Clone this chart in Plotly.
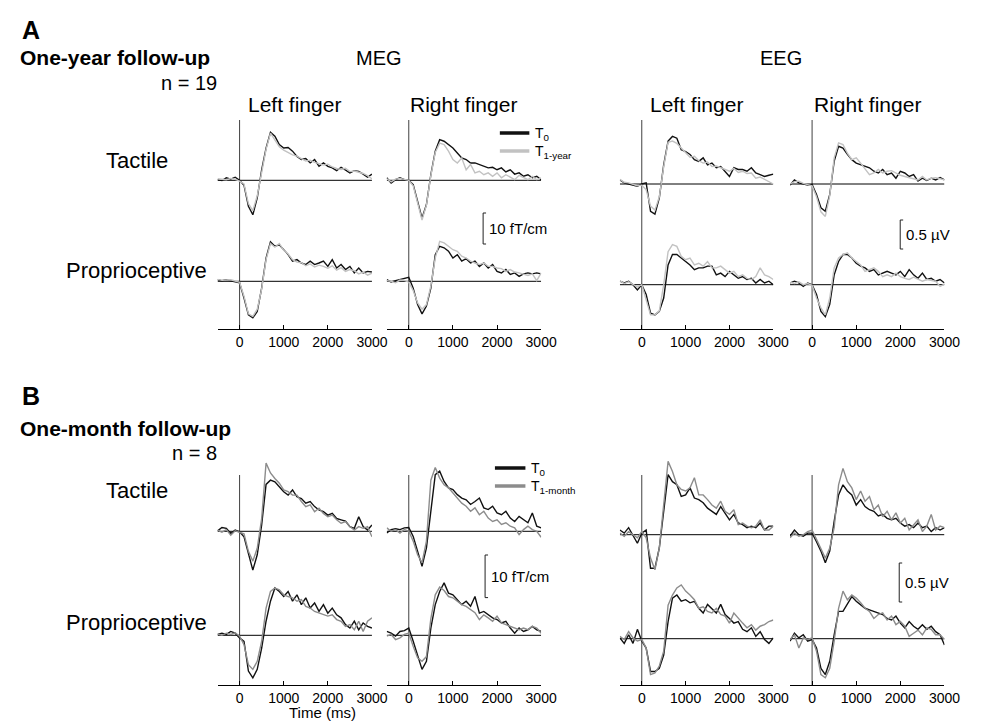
import plotly.graph_objects as go

# ---------------- data ----------------
time_ms = list(range(-500, 3001, 100))
x_tickvals = [0, 1000, 2000, 3000]
x_ticktext = ["0", "1000", "2000", "3000"]

# Panel A: one-year follow-up (MEG in fT/cm, EEG in uV)
A_meg_L_tac_T0 = [0.2, -0.1, 0.8, 0.4, 1.0, 0.0, -1.6, -8.4, -11.1, -5.7, 3.4, 10.4,
                  15.5, 14.2, 11.5, 10.4, 10.6, 9.4, 7.7, 6.7, 7.0, 5.6, 6.7, 4.5,
                  5.6, 4.5, 4.0, 3.1, 4.2, 3.4, 2.4, 3.1, 2.9, 2.0, 1.0, 2.0]
A_meg_L_tac_T1 = [0.5, 0.3, 0.2, 0.6, 0.3, -0.3, -1.2, -7.5, -9.8, -5.0, 3.0, 10.0,
                  15.2, 13.0, 10.8, 9.7, 9.0, 8.2, 7.8, 7.0, 6.2, 6.5, 5.8, 5.4,
                  4.9, 5.2, 4.3, 3.8, 3.5, 3.9, 2.8, 3.0, 2.6, 2.2, 1.5, 0.5]
A_meg_L_pro_T0 = [0.5, 0.2, 0.5, 0.2, -0.2, -0.5, -5.4, -10.8, -11.8, -9.7, -2.2, 7.5,
                  12.7, 11.3, 11.8, 10.2, 8.6, 6.5, 7.0, 5.9, 5.4, 6.5, 5.4, 5.9,
                  6.5, 4.8, 7.0, 4.3, 5.4, 3.8, 4.8, 2.7, 4.3, 2.7, 3.2, 3.0]
A_meg_L_pro_T1 = [0.6, 0.3, 0.4, 0.5, 0.1, -0.3, -4.8, -10.5, -11.3, -9.0, -2.5, 7.0,
                  12.2, 11.0, 12.2, 10.0, 8.8, 7.0, 6.2, 6.0, 5.0, 5.6, 4.6, 5.2,
                  4.8, 4.2, 5.0, 3.6, 4.4, 3.2, 3.8, 3.4, 2.4, 3.0, 2.0, 2.6]
A_meg_R_tac_T0 = [0.8, -0.9, 0.2, 0.8, 0.2, 0.0, -1.4, -6.8, -12.2, -7.8, 1.8, 9.4,
                  13.1, 12.6, 11.5, 10.4, 8.8, 7.2, 6.7, 5.6, 5.6, 5.1, 4.5, 4.0,
                  4.2, 3.4, 4.0, 2.7, 3.4, 2.0, 2.4, 1.3, 1.8, 0.8, 1.3, 0.2]
A_meg_R_tac_T1 = [0.5, -0.5, 0.4, 0.6, 0.3, 0.0, -1.8, -7.5, -12.8, -8.0, 1.5, 9.0,
                  12.0, 11.5, 9.4, 6.7, 5.6, 7.2, 3.4, 5.1, 2.4, 2.9, 1.8, 2.4,
                  1.3, 2.4, 0.8, 1.8, 1.0, 0.2, 1.6, 0.8, 0.2, 1.3, 0.2, 0.8]
A_meg_R_pro_T0 = [0.5, -0.2, 0.2, 0.5, 0.9, 1.3, -2.2, -7.5, -10.5, -8.0, -2.2, 8.6,
                  11.3, 10.8, 9.7, 7.5, 8.6, 6.5, 7.3, 5.9, 6.5, 4.8, 5.9, 4.3,
                  5.4, 3.2, 2.7, 3.8, 2.2, 2.7, 1.6, 2.4, 2.7, 2.4, 2.7, 2.4]
A_meg_R_pro_T1 = [0.2, 0.0, -0.5, 0.4, 0.3, -0.3, -3.0, -7.0, -9.0, -7.5, -1.5, 7.5,
                  12.9, 12.4, 11.3, 10.2, 9.7, 8.1, 7.5, 6.5, 5.9, 5.4, 5.9, 4.8,
                  4.8, 4.3, 4.1, 3.2, 3.8, 3.0, 2.7, 2.4, 1.9, 2.4, 0.2, 2.7]

A_eeg_L_tac_T0 = [0.07, 0.02, 0.00, -0.02, -0.04, 0.00, 0.02, -0.47, -0.52, -0.24, 0.33, 0.74,
                  0.82, 0.79, 0.59, 0.56, 0.51, 0.42, 0.39, 0.45, 0.33, 0.36, 0.28, 0.30,
                  0.22, 0.13, 0.28, 0.25, 0.25, 0.22, 0.28, 0.19, 0.16, 0.13, 0.15, 0.17]
A_eeg_L_tac_T1 = [0.08, 0.03, 0.02, -0.01, -0.03, -0.02, -0.10, -0.38, -0.45, -0.22, 0.30, 0.72,
                  0.74, 0.70, 0.62, 0.55, 0.46, 0.48, 0.40, 0.36, 0.38, 0.30, 0.31, 0.28,
                  0.25, 0.22, 0.27, 0.20, 0.22, 0.18, 0.19, 0.10, 0.12, 0.08, 0.05, 0.00]
A_eeg_L_pro_T0 = [0.06, 0.03, 0.06, 0.00, -0.09, 0.00, -0.17, -0.49, -0.52, -0.46, -0.23, 0.34,
                  0.52, 0.52, 0.46, 0.40, 0.34, 0.26, 0.29, 0.29, 0.32, 0.32, 0.17, 0.20,
                  0.14, 0.23, 0.17, 0.11, 0.14, 0.09, 0.11, 0.03, 0.09, 0.03, 0.06, 0.00]
A_eeg_L_pro_T1 = [0.07, 0.02, 0.05, 0.01, -0.04, 0.00, -0.25, -0.52, -0.52, -0.45, 0.00, 0.57,
                  0.69, 0.66, 0.49, 0.43, 0.46, 0.34, 0.37, 0.32, 0.40, 0.29, 0.29, 0.32,
                  0.26, 0.20, 0.23, 0.14, 0.17, 0.11, 0.09, 0.14, 0.29, 0.17, 0.14, 0.09]
A_eeg_R_tac_T0 = [-0.02, 0.07, 0.02, 0.00, -0.02, -0.01, -0.18, -0.41, -0.47, -0.18, 0.39, 0.65,
                  0.62, 0.51, 0.42, 0.36, 0.33, 0.30, 0.28, 0.22, 0.19, 0.25, 0.16, 0.19,
                  0.10, 0.22, 0.19, 0.13, 0.16, 0.05, 0.10, 0.06, 0.10, 0.07, 0.11, 0.07]
A_eeg_R_tac_T1 = [0.00, 0.04, 0.05, 0.01, -0.01, -0.03, -0.22, -0.48, -0.56, -0.20, 0.45, 0.71,
                  0.68, 0.53, 0.42, 0.45, 0.36, 0.25, 0.16, 0.19, 0.25, 0.19, 0.22, 0.23,
                  0.19, 0.15, 0.13, 0.11, 0.10, 0.07, 0.13, 0.07, 0.10, 0.11, 0.09, 0.07]
A_eeg_R_pro_T0 = [0.03, 0.06, 0.03, -0.03, 0.03, 0.00, -0.17, -0.46, -0.55, -0.34, 0.17, 0.40,
                  0.52, 0.52, 0.46, 0.37, 0.32, 0.29, 0.23, 0.26, 0.17, 0.20, 0.23, 0.20,
                  0.17, 0.23, 0.14, 0.26, 0.17, 0.11, 0.20, 0.09, 0.11, 0.06, 0.09, 0.03]
A_eeg_R_pro_T1 = [0.04, 0.02, 0.05, 0.00, 0.02, -0.01, -0.23, -0.40, -0.52, -0.23, 0.29, 0.46,
                  0.52, 0.55, 0.46, 0.40, 0.34, 0.23, 0.26, 0.29, 0.23, 0.14, 0.17, 0.14,
                  0.20, 0.14, 0.11, 0.09, 0.13, 0.10, 0.06, 0.09, 0.07, 0.06, -0.03, 0.01]

# Panel B: one-month follow-up
B_meg_L_tac_T0 = [0.1, 0.9, 0.7, -0.5, 0.3, -0.1, -1.3, -5.5, -9.1, -5.5, 1.5, 11.0,
                  12.0, 11.6, 10.5, 9.3, 8.5, 9.7, 8.1, 7.7, 6.6, 7.0, 5.8, 5.0,
                  4.6, 3.8, 4.2, 3.0, 2.7, 2.4, 1.1, 0.7, 3.4, 1.1, 0.3, 1.5]
B_meg_L_tac_T1 = [0.3, -0.2, 0.4, -0.9, 0.1, -0.2, -0.6, -4.7, -7.0, -4.0, 3.0, 16.0,
                  13.7, 12.4, 11.3, 9.7, 9.3, 8.5, 8.5, 7.0, 5.8, 6.2, 4.6, 5.4,
                  4.2, 3.4, 3.8, 2.7, 1.9, 2.3, 1.1, 0.3, 1.1, 0.7, 1.1, -1.3]
B_meg_L_pro_T0 = [0.2, 0.5, 0.2, 0.9, 0.5, -0.6, -1.4, -8.4, -10.0, -8.0, -3.0, 3.3,
                  8.0, 11.1, 10.3, 9.1, 10.3, 8.0, 9.5, 7.2, 8.8, 6.4, 7.6, 5.6,
                  7.2, 5.2, 6.4, 4.8, 4.1, 2.5, 1.7, 3.3, 1.3, 2.9, 2.1, 1.7]
B_meg_L_pro_T1 = [0.3, 0.0, 0.5, 0.2, 0.6, -0.2, -2.2, -6.9, -8.0, -6.1, -1.4, 6.4,
                  10.3, 11.1, 10.7, 9.5, 9.1, 8.8, 8.0, 8.4, 6.8, 6.4, 5.6, 5.2,
                  4.8, 4.5, 4.8, 3.7, 3.3, 2.1, 2.5, 1.3, 3.3, 0.9, 3.3, 4.1]
B_meg_R_tac_T0 = [-0.4, 0.4, 0.6, 0.4, 0.8, 0.9, -1.2, -4.7, -8.2, -3.9, 5.5, 13.3,
                  14.1, 11.7, 10.2, 9.8, 8.6, 7.8, 7.4, 6.3, 7.0, 7.8, 5.5, 5.1,
                  5.9, 4.3, 3.9, 4.7, 3.1, 2.3, 3.5, 2.7, 2.0, 4.3, 1.2, 0.8]
B_meg_R_tac_T1 = [0.8, 0.0, 0.4, -0.4, 0.4, 0.0, -2.3, -5.5, -7.4, -2.3, 12.0, 15.0,
                  12.5, 10.9, 10.2, 9.0, 7.8, 6.6, 5.9, 4.7, 5.5, 3.9, 4.7, 3.1,
                  2.3, 2.7, 1.6, 2.0, 1.2, 0.8, -0.8, 0.4, 1.2, 0.4, 0.0, -1.4]
B_meg_R_pro_T0 = [0.9, 0.5, -0.2, 0.9, 1.1, 1.7, -1.4, -4.9, -8.0, -6.1, 1.7, 7.2,
                  10.3, 12.3, 9.9, 9.5, 8.4, 7.2, 8.0, 6.8, 9.1, 5.2, 5.6, 4.8,
                  4.1, 3.7, 2.9, 3.3, 1.7, 0.5, 1.7, 0.9, 1.3, 2.1, 1.3, 0.9]
B_meg_R_pro_T1 = [-0.2, 0.2, -1.0, -0.6, 0.2, 0.5, -2.6, -5.3, -6.1, -5.0, 3.9, 9.5,
                  11.3, 10.5, 9.1, 8.8, 8.0, 7.2, 6.8, 6.1, 5.3, 3.7, 4.8, 4.1,
                  3.3, 4.5, 2.9, 2.5, 2.1, 1.7, 1.3, 1.7, 1.3, 2.1, 1.7, 0.5]

B_eeg_L_tac_T0 = [0.06, 0.02, 0.09, -0.02, -0.11, 0.02, 0.06, -0.43, -0.43, -0.17, 0.34, 0.77,
                  0.68, 0.64, 0.49, 0.51, 0.60, 0.47, 0.45, 0.41, 0.34, 0.30, 0.26, 0.36,
                  0.28, 0.19, 0.26, 0.15, 0.13, 0.09, 0.11, 0.09, 0.15, 0.06, 0.11, 0.11]
B_eeg_L_tac_T1 = [0.02, -0.02, 0.04, 0.00, -0.04, 0.04, -0.04, -0.30, -0.45, -0.17, 0.43, 0.94,
                  0.81, 0.64, 0.58, 0.56, 0.60, 0.73, 0.51, 0.51, 0.45, 0.38, 0.34, 0.43,
                  0.30, 0.26, 0.32, 0.13, 0.15, 0.11, 0.09, 0.11, 0.19, 0.06, 0.06, 0.11]
B_eeg_L_pro_T0 = [0.01, -0.06, 0.05, -0.06, 0.12, -0.03, -0.12, -0.42, -0.42, -0.38, -0.21, 0.22,
                  0.52, 0.56, 0.48, 0.50, 0.46, 0.48, 0.39, 0.33, 0.44, 0.39, 0.33, 0.44,
                  0.31, 0.26, 0.20, 0.22, 0.12, 0.09, 0.14, 0.03, 0.09, -0.01, -0.06, 0.01]
B_eeg_L_pro_T1 = [0.03, -0.01, 0.09, 0.01, -0.03, -0.01, -0.12, -0.46, -0.44, -0.35, -0.16, 0.43,
                  0.56, 0.65, 0.69, 0.61, 0.56, 0.50, 0.39, 0.41, 0.35, 0.33, 0.39, 0.31,
                  0.29, 0.20, 0.33, 0.26, 0.20, 0.14, 0.18, 0.11, 0.16, 0.18, 0.22, 0.24]
B_eeg_R_tac_T0 = [-0.02, 0.06, 0.00, -0.02, 0.02, 0.02, -0.09, -0.21, -0.36, -0.21, 0.17, 0.51,
                  0.64, 0.56, 0.51, 0.38, 0.45, 0.36, 0.32, 0.30, 0.24, 0.26, 0.21, 0.19,
                  0.21, 0.15, 0.11, 0.13, 0.09, 0.15, 0.09, 0.11, 0.04, 0.09, 0.06, 0.09]
B_eeg_R_tac_T1 = [-0.04, 0.02, -0.02, 0.00, 0.04, 0.06, -0.06, -0.17, -0.30, -0.17, 0.09, 0.64,
                  0.85, 0.68, 0.60, 0.45, 0.56, 0.43, 0.49, 0.32, 0.38, 0.23, 0.30, 0.19,
                  0.28, 0.15, 0.21, 0.06, 0.13, 0.19, 0.04, 0.11, 0.26, 0.06, 0.11, 0.09]
B_eeg_R_pro_T0 = [-0.03, 0.07, 0.01, 0.05, -0.03, -0.01, -0.12, -0.38, -0.46, -0.29, 0.05, 0.35,
                  0.35, 0.44, 0.54, 0.48, 0.44, 0.39, 0.37, 0.35, 0.33, 0.31, 0.26, 0.24,
                  0.29, 0.20, 0.14, 0.22, 0.16, 0.12, 0.18, 0.12, 0.16, 0.09, 0.05, -0.08]
B_eeg_R_pro_T1 = [-0.01, 0.05, -0.12, 0.01, -0.01, 0.01, -0.16, -0.46, -0.50, -0.38, -0.03, 0.39,
                  0.61, 0.50, 0.56, 0.52, 0.46, 0.39, 0.35, 0.26, 0.31, 0.33, 0.24, 0.29,
                  0.18, 0.22, 0.16, 0.03, 0.07, 0.11, 0.05, 0.14, 0.12, 0.05, 0.05, -0.01]

DATA = {
    ("A", "MEG", "L", "tac"): (A_meg_L_tac_T0, A_meg_L_tac_T1),
    ("A", "MEG", "L", "pro"): (A_meg_L_pro_T0, A_meg_L_pro_T1),
    ("A", "MEG", "R", "tac"): (A_meg_R_tac_T0, A_meg_R_tac_T1),
    ("A", "MEG", "R", "pro"): (A_meg_R_pro_T0, A_meg_R_pro_T1),
    ("A", "EEG", "L", "tac"): (A_eeg_L_tac_T0, A_eeg_L_tac_T1),
    ("A", "EEG", "L", "pro"): (A_eeg_L_pro_T0, A_eeg_L_pro_T1),
    ("A", "EEG", "R", "tac"): (A_eeg_R_tac_T0, A_eeg_R_tac_T1),
    ("A", "EEG", "R", "pro"): (A_eeg_R_pro_T0, A_eeg_R_pro_T1),
    ("B", "MEG", "L", "tac"): (B_meg_L_tac_T0, B_meg_L_tac_T1),
    ("B", "MEG", "L", "pro"): (B_meg_L_pro_T0, B_meg_L_pro_T1),
    ("B", "MEG", "R", "tac"): (B_meg_R_tac_T0, B_meg_R_tac_T1),
    ("B", "MEG", "R", "pro"): (B_meg_R_pro_T0, B_meg_R_pro_T1),
    ("B", "EEG", "L", "tac"): (B_eeg_L_tac_T0, B_eeg_L_tac_T1),
    ("B", "EEG", "L", "pro"): (B_eeg_L_pro_T0, B_eeg_L_pro_T1),
    ("B", "EEG", "R", "tac"): (B_eeg_R_tac_T0, B_eeg_R_tac_T1),
    ("B", "EEG", "R", "pro"): (B_eeg_R_pro_T0, B_eeg_R_pro_T1),
}

# ---------------- layout geometry (pixels) ----------------
W, H = 981, 721
FONT = "Liberation Sans, Arial, sans-serif"
X_RANGE = [-500, 3000]
COL_PX = {("MEG", "L"): (213, 370), ("MEG", "R"): (385, 542),
          ("EEG", "L"): (622, 778), ("EEG", "R"): (795, 952)}
PANEL = {
    "A": dict(tac=(98, 222), pro=(222, 321), vtop=112,
              zero={"MEG": (172.3, 273.3), "EEG": (176.0, 276.7)},
              ppu={"MEG": 3.1, "EEG": 58.0}, gray="#c2c2c2"),
    "B": dict(tac=(440, 570), pro=(570, 677), vtop=467,
              zero={"MEG": (523.3, 627.3), "EEG": (526.7, 630.7)},
              ppu={"MEG": 4.26, "EEG": 78.0}, gray="#8c8c8c"),
}


def px_x(p):
    return p / W


def px_y(p):
    return 1 - p / H


fig = go.Figure()
layout = dict(width=W, height=H, margin=dict(l=0, r=0, t=0, b=0),
              paper_bgcolor="white", plot_bgcolor="rgba(0,0,0,0)",
              showlegend=False, font=dict(family=FONT, color="black", size=14))
shapes = []
annotations = []

idx = 0
for panel in ("A", "B"):
    g = PANEL[panel]
    for mod in ("MEG", "EEG"):
        for side in ("L", "R"):
            for row in ("tac", "pro"):
                idx += 1
                sfx = "" if idx == 1 else str(idx)
                top, bot = g[row]
                zero = g["zero"][mod][0 if row == "tac" else 1]
                ppu = g["ppu"][mod]
                yr = [-(bot - zero) / ppu, (zero - top) / ppu]
                x0p, x1p = COL_PX[(mod, side)]
                is_bottom = row == "pro"
                xa = dict(domain=[px_x(x0p), px_x(x1p)], range=X_RANGE, anchor="y" + sfx,
                          showgrid=False, zeroline=False, fixedrange=True)
                if is_bottom:
                    xa.update(showline=True, linecolor="black", linewidth=1,
                              ticks="inside", ticklen=4, tickcolor="black", tickwidth=1,
                              tickvals=x_tickvals, ticktext=x_ticktext,
                              tickfont=dict(family=FONT, size=14, color="black"))
                else:
                    xa.update(visible=False)
                layout["xaxis" + sfx] = xa
                layout["yaxis" + sfx] = dict(
                    domain=[px_y(bot), px_y(top)], range=yr, anchor="x" + sfx,
                    visible=False, fixedrange=True)
                t0, t1 = DATA[(panel, mod, side, row)]
                fig.add_trace(go.Scatter(x=time_ms, y=t0, mode="lines",
                                         line=dict(color="#111111", width=1.4),
                                         xaxis="x" + sfx, yaxis="y" + sfx,
                                         hoverinfo="skip"))
                fig.add_trace(go.Scatter(x=time_ms, y=t1, mode="lines",
                                         line=dict(color=g["gray"], width=1.4),
                                         xaxis="x" + sfx, yaxis="y" + sfx,
                                         hoverinfo="skip"))
                # zero baseline
                shapes.append(dict(type="line", xref="x" + sfx, yref="y" + sfx,
                                   x0=X_RANGE[0], x1=X_RANGE[1], y0=0, y1=0,
                                   line=dict(color="black", width=1), layer="below"))
                # stimulus onset line
                vt = 1.0 if is_bottom else (bot - g["vtop"]) / (bot - top)
                shapes.append(dict(type="line", xref="x" + sfx, yref="y" + sfx + " domain",
                                   x0=0, x1=0, y0=0, y1=vt,
                                   line=dict(color="#404040", width=1), layer="below"))


def text(s, xp, yp, size, xanchor="center", bold=False):
    if bold:
        s = "<b>" + s + "</b>"
    annotations.append(dict(text=s, x=px_x(xp), y=px_y(yp), xref="paper", yref="paper",
                            xanchor=xanchor, yanchor="middle", showarrow=False,
                            align="left",
                            font=dict(family=FONT, size=size, color="black")))


# Panel titles
text("A", 12, 22, 25, "left", bold=True)
text("One-year follow-up", 10, 50, 21, "left", bold=True)
text("n = 19", 214, 75, 20, "right")
text("MEG", 377, 50, 20)
text("EEG", 786, 50, 20)
for (mod, side), (a, b) in COL_PX.items():
    text("Left finger" if side == "L" else "Right finger", (a + b) / 2, 97, 21)
text("Tactile", 131, 152, 22)
text("Proprioceptive", 131, 262, 22)

text("B", 12, 388, 25, "left", bold=True)
text("One-month follow-up", 10, 420, 21, "left", bold=True)
text("n = 8", 214, 445, 20, "right")
text("Tactile", 131, 482, 22)
text("Proprioceptive", 131, 614, 22)
text("Time (ms)", 320, 704, 15)


# Legends
def legend(x0, x1, y_black, y_gray, gray, label):
    for yy, col in ((y_black, "#111111"), (y_gray, gray)):
        shapes.append(dict(type="line", xref="paper", yref="paper",
                           x0=px_x(x0), x1=px_x(x1), y0=px_y(yy), y1=px_y(yy),
                           line=dict(color=col, width=3.5)))
    text("T<sub>0</sub><br>" + label, x1 + 4, (y_black + y_gray) / 2 + 1, 14, "left")


legend(500, 530, 125, 143, PANEL["A"]["gray"], "T<sub>1-year</sub>")
legend(495, 526, 460, 478, PANEL["B"]["gray"], "T<sub>1-month</sub>")


# Scale bars
def scalebar(xp, ytop, amount, ppu, label):
    ybot = ytop + amount * ppu
    path = "M {a},{b} L {c},{b} L {c},{d} L {a},{d}".format(
        a=px_x(xp + 3), b=px_y(ytop), c=px_x(xp), d=px_y(ybot))
    shapes.append(dict(type="path", xref="paper", yref="paper", path=path,
                       line=dict(color="#222222", width=1)))
    text(label, xp + 4, (ytop + ybot) / 2, 15, "left")


scalebar(483, 205, 10, PANEL["A"]["ppu"]["MEG"], "10 fT/cm")
scalebar(907, 212, 0.5, PANEL["A"]["ppu"]["EEG"], "0.5 µV")
scalebar(485, 547, 10, PANEL["B"]["ppu"]["MEG"], "10 fT/cm")
scalebar(906, 555, 0.5, PANEL["B"]["ppu"]["EEG"], "0.5 µV")

layout["shapes"] = shapes
layout["annotations"] = annotations
fig.update_layout(**layout)
fig.write_html("out.html")
